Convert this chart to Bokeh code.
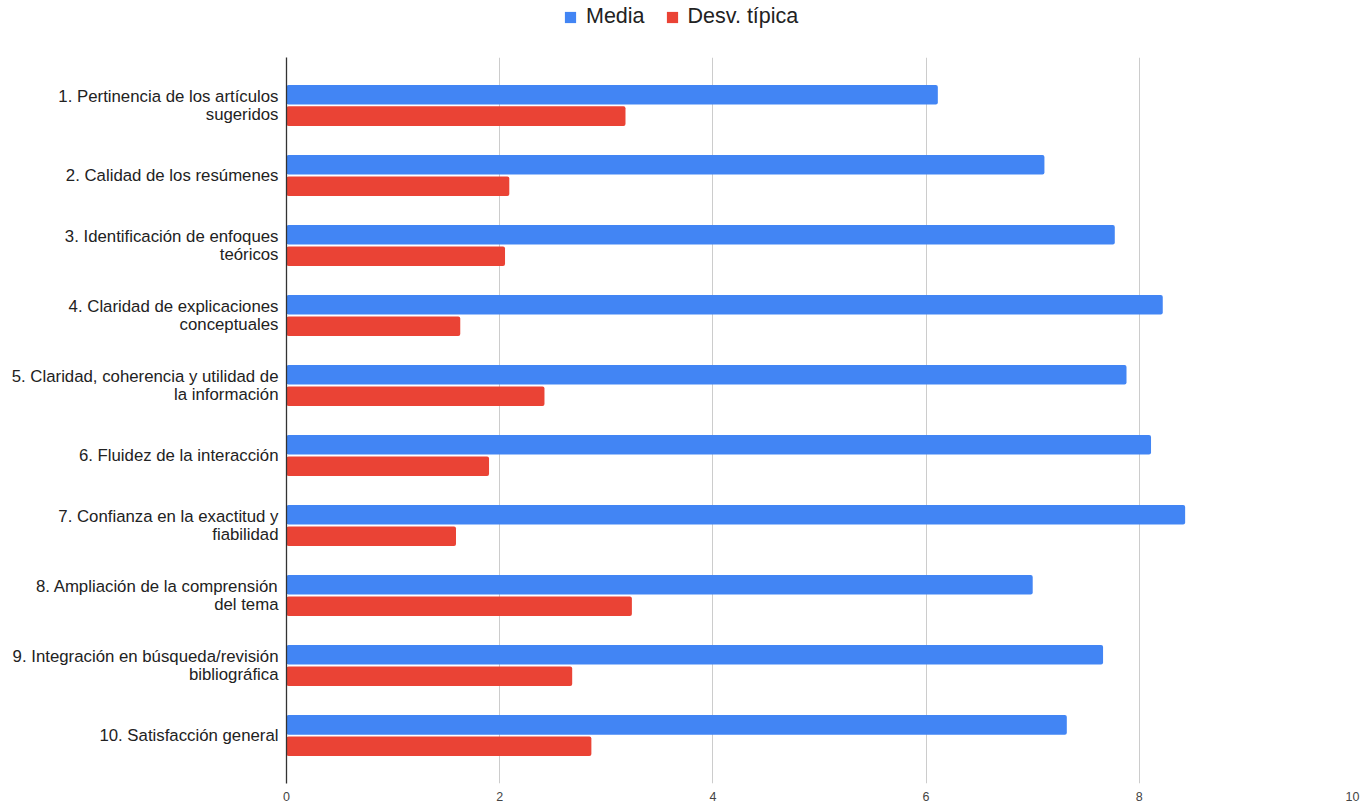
from bokeh.plotting import figure
from bokeh.layouts import column
from bokeh.models import FactorRange, Range1d, Legend, LegendItem, ColumnDataSource, FixedTicker
from bokeh.transform import dodge
from bokeh.embed import file_html
from bokeh.resources import INLINE

categories = [
    "1. Pertinencia de los artículos\nsugeridos",
    "2. Calidad de los resúmenes",
    "3. Identificación de enfoques\nteóricos",
    "4. Claridad de explicaciones\nconceptuales",
    "5. Claridad, coherencia y utilidad de\nla información",
    "6. Fluidez de la interacción",
    "7. Confianza en la exactitud y\nfiabilidad",
    "8. Ampliación de la comprensión\ndel tema",
    "9. Integración en búsqueda/revisión\nbibliográfica",
    "10. Satisfacción general",
]
media = [6.11, 7.11, 7.77, 8.22, 7.88, 8.11, 8.43, 7.00, 7.66, 7.32]
desv = [3.18, 2.09, 2.05, 1.63, 2.42, 1.90, 1.59, 3.24, 2.68, 2.86]
series = ["Media", "Desv. típica"]
colors = ["#4285F4", "#EA4335"]
x_ticks = [0, 2, 4, 6, 8, 10]

FONT = "Liberation Sans"
W, H, TOP = 1363, 803, 57

source = ColumnDataSource(data=dict(cat=categories, media=media, desv=desv))

# ---------- legend strip (its bars have zero height and lie outside its range; only the legend shows) ----------
lf = figure(width=W, height=TOP, x_range=Range1d(-2, -1), y_range=FactorRange(*categories),
            output_backend="svg", toolbar_location=None, min_border=0)
lf.axis.visible = False
lf.grid.grid_line_color = None
lf.outline_line_color = None
lr = [lf.hbar(y="cat", right=col, left=0, height=0, source=source,
              fill_color=c, line_color=None) for col, c in zip(["media", "desv"], colors)]
legend = Legend(
    items=[LegendItem(label=s, renderers=[r]) for s, r in zip(series, lr)],
    orientation="horizontal", location=(277, 28),
    label_text_font=FONT, label_text_font_size="21.5px", label_text_color="#222222",
    glyph_width=14, glyph_height=14, label_standoff=9, spacing=20,
    padding=0, margin=0, border_line_color=None, background_fill_alpha=0,
)
lf.add_layout(legend, "center")

# ---------- main chart ----------
p = figure(
    width=W, height=H - TOP,
    y_range=FactorRange(*reversed(categories), range_padding=0.185, range_padding_units="absolute"),
    x_range=Range1d(0, 10),
    output_backend="svg", toolbar_location=None,
    min_border_left=286, min_border_right=11, min_border_top=0, min_border_bottom=20,
)
p.outline_line_color = None

r1 = p.hbar(y=dodge("cat", 0.153, range=p.y_range), right="media", left=0, height=0.28,
            source=source, fill_color=colors[0], line_color=None, border_radius=2)
r2 = p.hbar(y=dodge("cat", -0.153, range=p.y_range), right="desv", left=0, height=0.28,
            source=source, fill_color=colors[1], line_color=None, border_radius=2)

p.xaxis.ticker = FixedTicker(ticks=x_ticks)
p.xaxis.axis_line_color = None
p.xaxis.major_tick_line_color = None
p.xaxis.minor_tick_line_color = None
p.xaxis.major_label_standoff = 2
p.xaxis.major_label_text_font = FONT
p.xaxis.major_label_text_font_size = "12.5px"
p.xaxis.major_label_text_color = "#444444"

p.yaxis.axis_line_color = "#333333"
p.yaxis.axis_line_width = 1.3
p.yaxis.major_tick_line_color = None
p.yaxis.minor_tick_line_color = None
p.yaxis.major_label_standoff = 2
p.yaxis.major_label_text_font = FONT
p.yaxis.major_label_text_font_size = "16.8px"
p.yaxis.major_label_text_color = "#222222"
p.yaxis.major_label_text_line_height = 0.95

p.xgrid.ticker = FixedTicker(ticks=x_ticks[1:])
p.xgrid.grid_line_color = "#cccccc"
p.ygrid.grid_line_color = None

open("out.html", "w").write(file_html(column(lf, p, spacing=0), INLINE))
